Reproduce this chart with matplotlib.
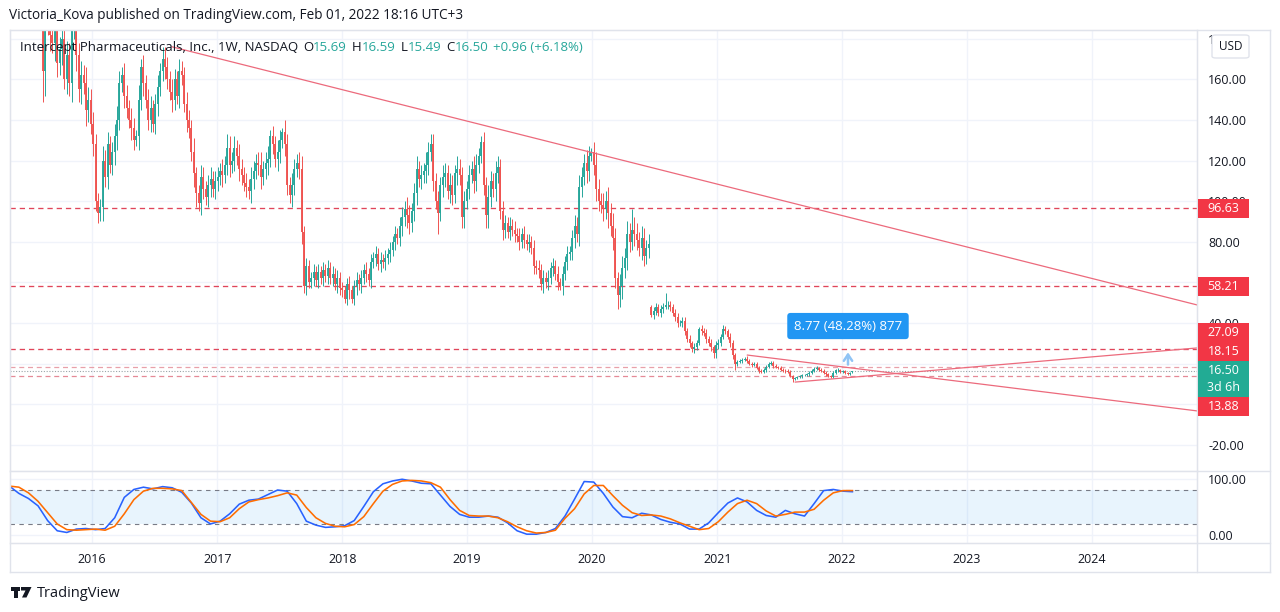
import matplotlib
matplotlib.use("Agg")
import matplotlib.pyplot as plt
import matplotlib.dates as mdates
from matplotlib.patches import Rectangle, FancyBboxPatch, Polygon
from matplotlib.lines import Line2D
import numpy as np
import pandas as pd

W, H = 1280, 612

# weekly closes, one list per calendar year (bars start Monday 2015-05-04)
close_2015 = [255, 262, 270, 268, 276, 282, 288, 280, 272, 266, 274, 262, 248,
              230, 164, 195, 188, 182, 178, 190, 168, 175, 180, 160, 172,
              158, 185, 190, 172, 155, 162, 158, 145, 150, 138]
close_2016 = [128, 100, 94, 97, 120, 112, 128, 118, 124, 132, 140, 158, 162,
              152, 146, 140, 136, 130, 132, 150, 166, 158, 150, 140, 146, 138,
              148, 156, 164, 170, 166, 160, 154, 150, 160, 152, 164, 162, 148,
              140, 136, 124, 114, 104, 99, 112, 106, 102, 108, 111, 106, 110]
close_2017 = [112, 115, 113, 118, 126, 118, 120, 126, 122, 116, 113, 109, 107,
              105, 111, 115, 119, 118, 112, 116, 119, 121, 132, 128, 121, 124,
              130, 134, 128, 108, 103, 108, 116, 119, 116, 85, 58, 68, 60,
              62, 65, 61, 65, 62, 66, 63, 67, 62, 64, 59, 62, 57]
close_2018 = [56, 52, 59, 56, 52, 58, 61, 59, 62, 66, 64, 61, 70,
              72, 74, 69, 71, 70, 72, 74, 76, 80, 84, 82, 88, 92,
              96, 93, 89, 95, 104, 116, 111, 113, 115, 118, 124, 128, 110,
              100, 94, 108, 112, 114, 105, 108, 103, 114, 116, 113, 92, 100, 106]
close_2019 = [113, 116, 110, 118, 122, 129, 108, 93, 102, 110, 106, 114, 117,
              95, 86, 89, 85, 88, 86, 84, 83, 80, 84, 81, 79, 80,
              77, 68, 67, 66, 59, 62, 60, 62, 67, 68, 64, 60, 58,
              64, 70, 74, 75, 82, 88, 84, 107, 112, 119, 115, 122, 124]
close_2020 = [118, 106, 100, 98, 96, 100, 94, 88, 82, 62, 54, 58, 67,
              72, 84, 80, 86, 84, 81, 77, 82, 73, 77, 79, 44, 46,
              48, 45, 47, 48, 49, 49, 48, 45, 43, 40, 40, 41, 36,
              32, 30, 27, 28, 30, 37, 36, 35, 32, 30, 28, 25, 29]
close_2021 = [30, 33, 37, 36, 33, 30, 24, 20, 21, 21.5, 22, 22.5, 21.5,
              20, 19.5, 20, 18, 16.5, 16, 17, 18.5, 20, 20.5, 19, 18.3, 17.8,
              17, 16.5, 16.3, 16, 14, 12.5, 12.8, 13.3, 13.8, 14.2, 14.5, 14.8, 15.5,
              16.5, 17.5, 17.8, 17, 16.5, 15.6, 14.8, 14, 13.6, 15.5, 16.6, 16.9, 15.8]
close_2022 = [16.2, 15.4, 15.0, 15.54, 16.50]

# how far the wicks reach past the body, per weekly bar
wick_2015 = [6, 8, 5, 7, 9, 6, 8, 5, 7, 6, 5, 8, 6,
             9, 4, 12, 6, 8, 5, 9, 7, 6, 8, 5, 7,
             6, 9, 5, 8, 6, 7, 5, 8, 6, 5]
wick_2016 = [6, 5, 4, 4, 7, 5, 6, 4, 5, 6, 7, 5, 4,
             6, 5, 4, 6, 5, 3, 7, 5, 6, 4, 5, 6, 4,
             5, 6, 4, 5, 6, 5, 4, 6, 5, 4, 6, 5, 4,
             6, 5, 4, 7, 3, 4, 6, 5, 4, 5, 6, 4, 5]
wick_2017 = [5, 4, 6, 4, 5, 6, 4, 5, 4, 6, 5, 4, 5,
             4, 6, 5, 4, 5, 6, 4, 5, 6, 4, 5, 4, 6,
             5, 4, 6, 5, 4, 6, 5, 4, 5, 6, 3, 4, 3,
             3, 4, 3, 4, 3, 4, 3, 4, 3, 4, 3, 4, 3]
wick_2018 = [3, 2, 3, 4, 2, 3, 4, 3, 4, 3, 4, 3, 4,
             3, 4, 3, 4, 3, 4, 3, 4, 3, 4, 3, 4, 5,
             4, 6, 5, 4, 5, 6, 4, 5, 4, 6, 5, 4, 5,
             4, 5, 4, 6, 5, 4, 6, 5, 4, 6, 5, 4, 5, 4]
wick_2019 = [5, 4, 6, 5, 4, 3, 5, 4, 6, 5, 4, 6, 5,
             4, 5, 4, 3, 4, 3, 4, 3, 4, 3, 4, 3, 4,
             3, 4, 3, 4, 3, 4, 3, 4, 3, 4, 3, 4, 2,
             4, 3, 4, 3, 4, 5, 4, 6, 5, 4, 6, 5, 2]
wick_2020 = [5, 6, 5, 4, 6, 5, 7, 5, 6, 5, 3, 6, 6,
             5, 6, 5, 4, 6, 5, 4, 6, 5, 4, 5, 1, 2,
             2, 1.5, 2, 2, 1, 2, 2, 1.5, 2, 2, 1.5, 2, 2,
             1.5, 2, 1, 2, 1.5, 1, 2, 1.5, 2, 1.5, 2, 1, 2]
wick_2021 = [2, 1.5, 1, 1.5, 1, 2, 1.5, 1, 1, 0.8, 1, 0.8, 1,
             0.8, 1, 0.7, 0.8, 1, 0.7, 0.8, 1, 0.7, 0.8, 1, 0.6, 0.7,
             0.8, 0.6, 0.7, 0.8, 0.6, 0.5, 0.5, 0.6, 0.5, 0.7, 0.5, 0.6, 0.7,
             0.8, 0.7, 0.8, 0.6, 0.7, 0.6, 0.7, 0.6, 0.5, 0.7, 0.6, 0.7, 0.6]
wick_2022 = [0.5, 0.6, 0.5, 0.4, 0]

years = [2015, 2016, 2017, 2018, 2019, 2020, 2021, 2022]
closes_by_year = [close_2015, close_2016, close_2017, close_2018,
                  close_2019, close_2020, close_2021, close_2022]
wicks_by_year = [wick_2015, wick_2016, wick_2017, wick_2018,
                 wick_2019, wick_2020, wick_2021, wick_2022]

# the longer wicks and the opens that gap away from the prior close, (year, week) -> price
wick_low = {(2015, 14): 149, (2016, 2): 89, (2016, 18): 127, (2016, 43): 97,
            (2017, 36): 55, (2018, 1): 50, (2018, 4): 50, (2018, 40): 84,
            (2018, 50): 87, (2019, 7): 87, (2019, 38): 56, (2020, 10): 47,
            (2020, 41): 25.5, (2020, 50): 23, (2021, 7): 17, (2021, 31): 11,
            (2022, 4): 15.49}
wick_high = {(2016, 11): 164, (2016, 20): 170, (2016, 29): 176, (2016, 36): 170,
             (2017, 4): 133, (2017, 7): 132, (2017, 22): 135, (2017, 27): 136,
             (2018, 37): 133, (2019, 5): 132, (2019, 12): 122, (2019, 51): 126,
             (2020, 16): 96, (2020, 24): 49, (2020, 30): 55, (2021, 2): 39,
             (2022, 4): 16.59}
gap_open = {(2015, 0): 248, (2020, 24): 48, (2022, 4): 15.69}

# stochastic RSI, every 4th weekly bar
stoch_k = [87, 74, 65, 52, 26, 8, 5, 11, 12, 10, 12, 31, 67,
           81, 85, 82, 86, 84, 76, 57, 31, 20, 25, 38, 55, 62,
           64, 72, 80, 78, 56, 25, 18, 14, 15, 17, 26, 51, 77,
           91, 96, 99, 96, 92, 91, 71, 51, 37, 32, 32, 34, 32,
           22, 8, 2, 2, 5, 12, 34, 64, 95, 94, 74, 50, 33,
           31, 39, 36, 28, 23, 20, 11, 11, 22, 40, 57, 66, 59,
           44, 35, 32, 44, 38, 34, 56, 79, 81, 78, 77]
stoch_d = [87, 85, 75, 60, 40, 20, 10, 9, 10, 11, 9, 16, 38,
           63, 78, 83, 83, 82, 79, 58, 37, 25, 24, 31, 47, 59,
           63, 66, 70, 75, 71, 49, 31, 21, 16, 15, 19, 33, 56,
           78, 90, 96, 97, 96, 93, 85, 63, 44, 35, 34, 34, 31,
           24, 15, 8, 4, 5, 9, 30, 47, 73, 88, 88, 70, 53,
           40, 35, 36, 34, 29, 22, 16, 10, 12, 24, 41, 56, 62,
           56, 43, 34, 37, 41, 41, 46, 62, 75, 79, 79]

level_prices = [96.63, 58.21, 27.09, 18.15, 13.88]
last_price = 16.50

# drawn trend lines: (dates, prices)
trend_top = (["2016-08-22", "2024-11-03"], [176.0, 48.9])
trend_up = (["2021-08-17", "2024-11-03"], [10.9, 27.7])
trend_down = (["2021-03-30", "2024-11-03"], [24.2, -3.3])
measure = ("2022-01-18", 18.15, 26.92, "8.77 (48.28%) 877")

UP, DOWN = "#26a69a", "#ef5350"
TXT = "#131722"
FRAME = "#e0e3eb"
GRID = "#f0f3fa"
plt.rcParams["font.family"] = ["Open Sans", "DejaVu Sans"]

# ---- assemble OHLC ----
c, o, hi, lo = [], [], [], []
prev = None
for yr, cl, wk in zip(years, closes_by_year, wicks_by_year):
    for w, v in enumerate(cl):
        op = gap_open.get((yr, w), prev)
        c.append(v)
        o.append(op)
        hi.append(wick_high.get((yr, w), max(op, v) + wk[w]))
        lo.append(wick_low.get((yr, w), min(op, v) - wk[w]))
        prev = v
c, o, hi, lo = map(np.array, (c, o, hi, lo))
dates = pd.date_range("2015-05-04", periods=len(c), freq="7D")
x = mdates.date2num(dates)


def fx(px):
    return px / W


def fy(py):
    return 1 - py / H


fig = plt.figure(figsize=(W / 100, H / 100), dpi=100)
fig.patch.set_facecolor("white")
ax = fig.add_axes([fx(10), fy(471), (1197 - 10) / W, (471 - 30) / H])
axs = fig.add_axes([fx(10), fy(543), (1197 - 10) / W, (543 - 471) / H], sharex=ax)

ax.set_xlim(mdates.datestr2num("2015-05-06"), mdates.datestr2num("2024-11-03"))
ax.set_ylim(-32.9, 184.3)
axs.set_ylim(-13.6, 113.6)

for a in (ax, axs):
    a.grid(True, color=GRID, lw=1)
    a.set_axisbelow(True)
    for s in a.spines.values():
        s.set_color(FRAME)
    a.yaxis.tick_right()
    a.tick_params(length=0, labelsize=9, colors=TXT, pad=8)
    a.xaxis.set_major_locator(mdates.YearLocator())
    a.xaxis.set_major_formatter(mdates.DateFormatter("%Y"))
ax.tick_params(labelbottom=False)
axs.tick_params(axis="x", pad=7)

ax.set_yticks(np.arange(-20, 181, 20))
ax.yaxis.set_major_formatter(matplotlib.ticker.FormatStrFormatter("%.2f"))
axs.set_yticks([0, 100])
axs.yaxis.set_major_formatter(matplotlib.ticker.FormatStrFormatter("%.2f"))

# ---- candles ----
up = c >= o
for m, col in ((up, UP), (~up, DOWN)):
    ax.vlines(x[m], lo[m], hi[m], color=col, lw=0.7, zorder=3)
    ax.vlines(x[m], o[m], c[m], color=col, lw=1.35, zorder=3)

# ---- horizontal levels and trend lines ----
level_styles = [("#e0455a", 0.95), ("#e0455a", 0.95), ("#e0455a", 0.95),
                ("#e8a0aa", 0.9), ("#e58a97", 0.9)]
for p, (col, lw) in zip(level_prices, level_styles):
    ax.axhline(p, color=col, lw=lw, ls=(0, (4, 3)), zorder=2)
ax.axhline(last_price, color="#9aa4a8", lw=0.8, ls=(0, (1, 1.5)), zorder=2)

for d, p in (trend_top, trend_up, trend_down):
    ax.plot(mdates.datestr2num(d), p, color="#ec6a7c", lw=0.9, zorder=4)

md, p0, p1, mtxt = measure
mx = mdates.datestr2num(md)
ax.annotate("", xy=(mx, p1), xytext=(mx, p0),
            arrowprops=dict(arrowstyle="->,head_length=0.45,head_width=0.3",
                            color="#90c4f5", lw=1.8), zorder=5)
ax.text(mx, 38.5, mtxt, ha="center", va="center", color="white", fontsize=9.5,
        zorder=6, bbox=dict(boxstyle="round,pad=0.5,rounding_size=0.25",
                            fc="#2196f3", ec="none"))

# ---- stochastic RSI ----
sx = x[::4]
axs.axhspan(20, 80, color="#2196f3", alpha=0.1, lw=0)
for lv in (80, 20):
    axs.axhline(lv, color="#787b86", lw=0.8, ls=(0, (4, 4)))
axs.plot(sx, stoch_k, color="#2962ff", lw=1.15)
axs.plot(sx, stoch_d, color="#ff6d00", lw=1.15)

# ---- frame ----
for xs, ys in (((10, 1270), (30, 30)), ((1270, 1270), (30, 572)),
               ((10, 1270), (572, 572)), ((10, 10), (30, 572)),
               ((1197, 1197), (30, 572)), ((10, 1270), (471, 471)),
               ((10, 1270), (543, 543))):
    fig.add_artist(Line2D([fx(v) for v in xs], [fy(v) for v in ys],
                          color=FRAME, lw=1, transform=fig.transFigure))

# ---- price tags on the scale ----


def price_px(p):
    return H - ax.transData.transform((x[0], p))[1]


def tag(top, h, color, lines):
    fig.add_artist(Rectangle((fx(1198), fy(top + h)), 51 / W, h / H,
                             transform=fig.transFigure, fc=color, ec="none", zorder=5))
    for i, s in enumerate(lines):
        fig.text(fx(1223.5), fy(top + 9.5 + 17 * i), s, ha="center", va="center",
                 color="white", fontsize=9, zorder=6)


for p in level_prices[:2]:
    tag(price_px(p) - 9.5, 19, "#f23645", [f"{p:.2f}"])
cur_top = price_px(last_price) - 9.5
tag(cur_top, 36, "#22ab94", [f"{last_price:.2f}", "3d 6h"])
tag(cur_top - 19, 19, "#f23645", [f"{level_prices[3]:.2f}"])
tag(cur_top - 38, 19, "#f23645", [f"{level_prices[2]:.2f}"])
tag(cur_top + 36, 19, "#f23645", [f"{level_prices[4]:.2f}"])

fig.add_artist(FancyBboxPatch((fx(1212), fy(58)), 37 / W, 23 / H,
                              boxstyle="round,pad=0,rounding_size=0.003",
                              transform=fig.transFigure, fc="white", ec=FRAME,
                              lw=1, zorder=5))
fig.text(fx(1231), fy(47), "USD", ha="center", va="center", fontsize=8.5,
         color=TXT, zorder=6)

# ---- header texts ----
fig.text(fx(9), fy(19), "Victoria_Kova published on TradingView.com, Feb 01, 2022 18:16 UTC+3",
         fontsize=9.8, color=TXT, va="baseline")

renderer = fig.canvas.get_renderer()
legend = [("Intercept Pharmaceuticals, Inc., 1W, NASDAQ", TXT, 5),
          ("O", TXT, 0), ("15.69", UP, 5), ("H", TXT, 0), ("16.59", UP, 5),
          ("L", TXT, 0), ("15.49", UP, 5), ("C", TXT, 0), ("16.50", UP, 5),
          ("+0.96 (+6.18%)", UP, 0)]
lx = 20
for s, col, gap in legend:
    t = fig.text(fx(lx), fy(51), s, fontsize=9.5, color=col, va="baseline", zorder=6)
    lx += t.get_window_extent(renderer).width + gap

# ---- footer logo ----
for poly in ([(10.5, 587), (19.5, 587), (19.5, 590.5), (10.5, 590.5)],
             [(14, 587), (18, 587), (18, 597.5), (14, 597.5)],
             [(21, 587), (31.5, 587), (26.5, 597.5), (22, 597.5), (25.5, 590.5), (21, 590.5)]):
    fig.add_artist(Polygon([(fx(a), fy(b)) for a, b in poly], closed=True,
                           transform=fig.transFigure, fc=TXT, ec="none"))
fig.text(fx(37), fy(597), "TradingView", fontsize=10.5, color=TXT, va="baseline")

fig.savefig("out.png", dpi=100, facecolor="white")
